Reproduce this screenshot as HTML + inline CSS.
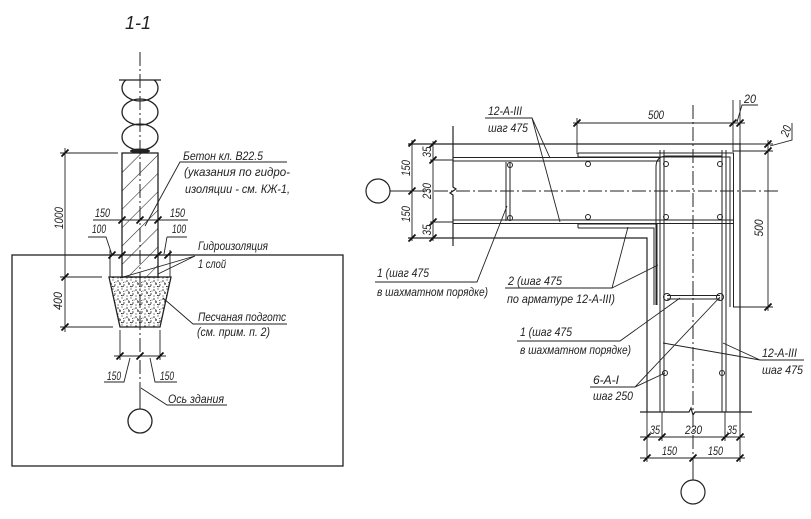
<!DOCTYPE html>
<html><head><meta charset="utf-8"><style>
html,body{margin:0;padding:0;background:#fff;}
svg{display:block}
text{font-family:"Liberation Sans","DejaVu Sans",sans-serif;font-style:italic;fill:#222;font-size:12px}
</style></head><body>
<svg width="811" height="519" viewBox="0 0 811 519" xmlns="http://www.w3.org/2000/svg">
<defs>
<pattern id="hatch" patternUnits="userSpaceOnUse" width="13" height="13" patternTransform="rotate(45)"><line x1="0" y1="0" x2="0" y2="13" stroke="#222" stroke-width="1.1"/></pattern>
<pattern id="sand" patternUnits="userSpaceOnUse" width="9" height="9">
<g fill="#333"><circle cx="1" cy="2" r="0.8"/><circle cx="5" cy="1" r="0.6"/><circle cx="3" cy="5" r="0.9"/><circle cx="7" cy="6" r="0.7"/><circle cx="1" cy="8" r="0.6"/><circle cx="8" cy="3" r="0.5"/><circle cx="4.5" cy="7.5" r="0.6"/><circle cx="6.5" cy="3.5" r="0.5"/></g>
<path d="M5 8 l2 -1 M2 3.5 l1.5 0.8" stroke="#333" stroke-width="0.7"/>
</pattern>
<clipPath id="logclip"><rect x="100" y="80" width="80" height="80"/></clipPath>
</defs>

<!-- ================= LEFT DRAWING ================= -->
<text x="125" y="29" style="font-size:18px">1-1</text>

<g fill="none" stroke="#222" stroke-width="1.3">
  <rect x="12" y="255" width="331" height="211"/>
  <line x1="119" y1="80" x2="161" y2="80"/>
  <g clip-path="url(#logclip)">
    <ellipse cx="140" cy="88" rx="18" ry="13"/>
  </g>
  <ellipse cx="140" cy="112" rx="18" ry="13"/>
  <ellipse cx="140" cy="137" rx="18" ry="13"/>
  <rect x="122" y="153" width="36" height="124" fill="url(#hatch)"/>
  <polygon points="109,277 171,277 160,327 120,327" fill="url(#sand)"/>
  <circle cx="140" cy="421" r="12"/>
</g>
<ellipse cx="140" cy="151" rx="10" ry="2.5" fill="#222"/>

<!-- left axis -->
<line x1="140" y1="52" x2="140" y2="395" stroke="#222" stroke-width="1" stroke-dasharray="14 3 2 3"/>
<line x1="140" y1="395" x2="140" y2="409" stroke="#222" stroke-width="1"/>

<!-- left dims -->
<g fill="none" stroke="#222" stroke-width="0.9">
  <path d="M65 148 V332 M60 153 H118 M60 277 H102 M60 327 H113"/>
  <path d="M93 220 H188"/>
  <path d="M110 250 V277 M170 250 V277"/>
  <path d="M88 237 H106 L112 255 M167 237 H187 M167 237 L164 254"/>
  <path d="M120 330 V360 M160 330 V360 M114 356 H166"/>
  <path d="M104 382 H124 L130 358 M177 382 H155 L150 358"/>
  <path d="M141 388 L167 405 H227"/>
  <path d="M287 162 H180 L145 226"/>
  <path d="M195 256 L120 278 M195 256 L158 274"/>
  <path d="M287 324 H193 L163 298"/>
</g>
<path fill="none" stroke="#111" stroke-width="1.8" d="M61.5 156.5l7 -7 M61.5 280.5l7 -7 M61.5 330.5l7 -7 M118.5 223.5l7 -7 M136.5 223.5l7 -7 M154.5 223.5l7 -7 M108.5 258.5l7 -7 M118.5 258.5l7 -7 M154.5 258.5l7 -7 M164.5 258.5l7 -7 M116.5 359.5l7 -7 M136.5 359.5l7 -7 M156.5 359.5l7 -7"/>

<text x="183" y="160" textLength="80" lengthAdjust="spacingAndGlyphs">Бетон кл. В22.5</text>
<text x="184" y="176" textLength="106" lengthAdjust="spacingAndGlyphs">(указания по гидро-</text>
<text x="185" y="193" textLength="105" lengthAdjust="spacingAndGlyphs">изоляции - см. КЖ-1,</text>
<text x="95" y="217" textLength="15" lengthAdjust="spacingAndGlyphs">150</text>
<text x="170" y="217" textLength="15" lengthAdjust="spacingAndGlyphs">150</text>
<text x="92" y="233" textLength="14" lengthAdjust="spacingAndGlyphs">100</text>
<text x="172" y="233" textLength="14" lengthAdjust="spacingAndGlyphs">100</text>
<text x="198" y="250" textLength="70" lengthAdjust="spacingAndGlyphs">Гидроизоляция</text>
<text x="198" y="268" textLength="28" lengthAdjust="spacingAndGlyphs">1 слой</text>
<text x="198" y="321" textLength="88" lengthAdjust="spacingAndGlyphs">Песчаная подготс</text>
<text x="197" y="336" textLength="73" lengthAdjust="spacingAndGlyphs">(см. прим. п. 2)</text>
<text x="107" y="380" textLength="14" lengthAdjust="spacingAndGlyphs">150</text>
<text x="160" y="380" textLength="14" lengthAdjust="spacingAndGlyphs">150</text>
<text x="168" y="403" textLength="56" lengthAdjust="spacingAndGlyphs">Ось здания</text>
<text x="59" y="222" text-anchor="middle" transform="rotate(-90 59 218)" textLength="22" lengthAdjust="spacingAndGlyphs">1000</text>
<text x="58" y="305" text-anchor="middle" transform="rotate(-90 58 301)" textLength="18" lengthAdjust="spacingAndGlyphs">400</text>

<!-- ================= RIGHT DRAWING ================= -->
<g fill="none" stroke="#222" stroke-width="1.2">
  <path d="M408 144 H740 M408 238 H647 V412 M740 143 V412"/>
  <path d="M453 126 V187 l3 2 l-6 4 l3 2 V246"/>
  <path d="M640 412 H689 l2 -4 l2 7 l2 -3 H752"/>
  <circle cx="378" cy="191" r="12"/>
  <circle cx="693" cy="492" r="12"/>
</g>
<!-- rebars -->
<g fill="none" stroke="#222" stroke-width="1">
  <path d="M430 160 H453 M453 157.5 H660 M453 161 H660"/>
  <path d="M578 153 H733.5 V307 M578 157 H730 V307 M578 153 V157"/>
  <path d="M660 150 V412 M664 150 V412 M722 150 V412 M726 150 V412"/>
  <path d="M656 305 V167 Q656 156 667 156 H722"/>
  <path d="M430 222 H453 M453 220 H733 M453 223.5 H733"/>
  <path d="M578 224 H657 V305 M578 228 H654 V305 M578 224 V228"/>
  <path d="M506 162 V221 M510 162 V221"/>
  <circle cx="510" cy="165" r="2.5"/><circle cx="510" cy="218" r="2.5"/>
  <circle cx="588" cy="164" r="2.5"/><circle cx="666" cy="164" r="2.5"/><circle cx="720" cy="164" r="2.5"/>
  <circle cx="588" cy="217" r="2.5"/><circle cx="666" cy="217" r="2.5"/><circle cx="720" cy="217" r="2.5"/>
  <circle cx="665" cy="373" r="2.5"/><circle cx="722" cy="373" r="2.5"/>
  <path d="M667 295.5 H720 M667 299 H720"/>
  <circle cx="667" cy="297" r="3.5"/><circle cx="720" cy="297" r="3.5"/>
</g>
<!-- axes -->
<line x1="390" y1="191" x2="412" y2="191" stroke="#222" stroke-width="1"/>
<line x1="412" y1="191" x2="780" y2="191" stroke="#222" stroke-width="1" stroke-dasharray="14 3 2 3"/>
<line x1="693" y1="105" x2="693" y2="462" stroke="#222" stroke-width="1" stroke-dasharray="14 3 2 3"/>
<line x1="693" y1="458" x2="693" y2="480" stroke="#222" stroke-width="1"/>

<!-- right dims -->
<g fill="none" stroke="#222" stroke-width="0.9">
  <path d="M412 140 V241 M433 141 V241"/>
  <path d="M573 123 H745 M577 118 V154 M733 100 V152 M740 100 V143"/>
  <path d="M758 105 H742 L737 122"/>
  <path d="M768 140 V311 M740 144 H773 M733 151 H773 M733 307 H773"/>
  <path d="M770 146 L792 140 V123"/>
  <path d="M640 437 H745 M640 458 H745 M647 412 V462 M662 412 V441 M725 412 V441 M740 412 V462"/>
  <path d="M485 118 H532 L550 158 M532 118 L560 222"/>
  <path d="M375 282 H477 L507 206"/>
  <path d="M505 288 H612 L628 227 M612 288 L658 265"/>
  <path d="M517 341 H620 L680 298"/>
  <path d="M590 387 H635 L665 373 M635 387 L720 297"/>
  <path d="M804 360 H760 L663 343 M760 360 L723 343"/>
</g>
<path fill="none" stroke="#111" stroke-width="1.8" d="M408.5 146.5l7 -7 M408.5 194.5l7 -7 M408.5 241.5l7 -7 M429.5 147.5l7 -7 M429.5 163.5l7 -7 M429.5 225.5l7 -7 M429.5 241.5l7 -7 M573.5 126.5l7 -7 M729.5 126.5l7 -7 M736.5 126.5l7 -7 M764.5 147.5l7 -7 M764.5 154.5l7 -7 M764.5 310.5l7 -7 M643.5 440.5l7 -7 M658.5 440.5l7 -7 M721.5 440.5l7 -7 M736.5 440.5l7 -7 M643.5 461.5l7 -7 M689.5 461.5l7 -7 M736.5 461.5l7 -7"/>

<text x="488" y="115" textLength="34" lengthAdjust="spacingAndGlyphs">12-A-III</text>
<text x="488" y="132" textLength="40" lengthAdjust="spacingAndGlyphs">шаг 475</text>
<text x="648" y="119" textLength="16" lengthAdjust="spacingAndGlyphs">500</text>
<text x="744" y="103" textLength="12" lengthAdjust="spacingAndGlyphs">20</text>
<text x="786" y="135" text-anchor="middle" transform="rotate(-70 786 131)" textLength="11" lengthAdjust="spacingAndGlyphs">20</text>
<text x="759" y="232" text-anchor="middle" transform="rotate(-90 759 228)" textLength="17" lengthAdjust="spacingAndGlyphs">500</text>
<text x="406" y="172" text-anchor="middle" transform="rotate(-90 406 168)" textLength="16" lengthAdjust="spacingAndGlyphs">150</text>
<text x="406" y="218" text-anchor="middle" transform="rotate(-90 406 214)" textLength="16" lengthAdjust="spacingAndGlyphs">150</text>
<text x="427" y="156" text-anchor="middle" transform="rotate(-90 427 152)" textLength="11" lengthAdjust="spacingAndGlyphs">35</text>
<text x="427" y="195" text-anchor="middle" transform="rotate(-90 427 191)" textLength="16" lengthAdjust="spacingAndGlyphs">230</text>
<text x="427" y="234" text-anchor="middle" transform="rotate(-90 427 230)" textLength="11" lengthAdjust="spacingAndGlyphs">35</text>
<text x="650" y="434" textLength="10" lengthAdjust="spacingAndGlyphs">35</text>
<text x="685" y="434" textLength="17" lengthAdjust="spacingAndGlyphs">230</text>
<text x="727" y="434" textLength="10" lengthAdjust="spacingAndGlyphs">35</text>
<text x="662" y="455" textLength="15" lengthAdjust="spacingAndGlyphs">150</text>
<text x="708" y="455" textLength="15" lengthAdjust="spacingAndGlyphs">150</text>

<text x="377" y="277" textLength="52" lengthAdjust="spacingAndGlyphs">1 (шаг 475</text>
<text x="377" y="296" textLength="111" lengthAdjust="spacingAndGlyphs">в шахматном порядке)</text>
<text x="508" y="285" textLength="54" lengthAdjust="spacingAndGlyphs">2 (шаг 475</text>
<text x="507" y="303" textLength="108" lengthAdjust="spacingAndGlyphs">по арматуре 12-A-III)</text>
<text x="520" y="336" textLength="52" lengthAdjust="spacingAndGlyphs">1 (шаг 475</text>
<text x="520" y="354" textLength="111" lengthAdjust="spacingAndGlyphs">в шахматном порядке)</text>
<text x="593" y="384" textLength="26" lengthAdjust="spacingAndGlyphs">6-A-I</text>
<text x="593" y="400" textLength="40" lengthAdjust="spacingAndGlyphs">шаг 250</text>
<text x="762" y="357" textLength="35" lengthAdjust="spacingAndGlyphs">12-A-III</text>
<text x="762" y="374" textLength="41" lengthAdjust="spacingAndGlyphs">шаг 475</text>
</svg>
</body></html>
